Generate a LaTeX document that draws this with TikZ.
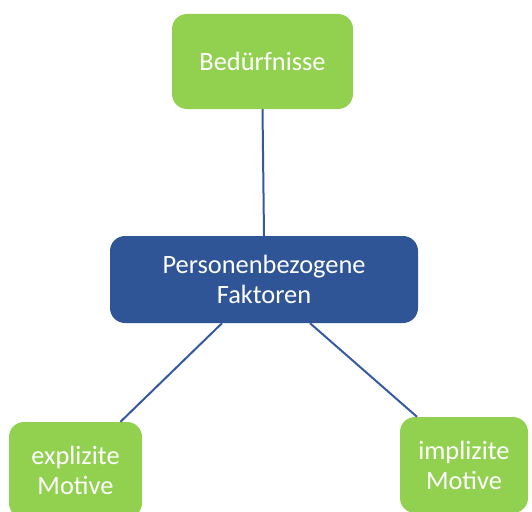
\documentclass[tikz,border=0pt]{standalone}
\usepackage{fontspec}
\setmainfont{Carlito}
\usepackage{tikz}
\usetikzlibrary{arrows.meta}

\definecolor{boxgreen}{HTML}{92D050}
\definecolor{boxblue}{HTML}{2F5597}
\definecolor{linkblue}{HTML}{3559A0}

\tikzset{
  greenbox/.style={fill=boxgreen, rounded corners=15pt, text=white, align=center,
    inner sep=0pt, font=\fontsize{26.4}{30}\selectfont},
  bluebox/.style={fill=boxblue, rounded corners=15pt, text=white, align=center,
    inner sep=0pt, font=\fontsize{26.4}{30}\selectfont},
  link/.style={draw=linkblue, line width=2pt}
}

\begin{document}
\begin{tikzpicture}[x=1pt,y=-1pt]
%\draw[help lines, color=gray!30, dashed] (0,0) grid[step=50] (532,511);
\useasboundingbox (0,0) rectangle (532,511);
\clip (0,0) rectangle (532,511);

\node[greenbox, minimum width=181pt, minimum height=95pt] (bed) at (262.5,61.5) {Bedürfnisse};

\node[bluebox, minimum width=308pt, minimum height=87pt] (pers) at (264,279.5) {Personenbezogene\\Faktoren};

\node[greenbox, minimum width=133pt, minimum height=96pt] (expl) at (75.5,470) {explizite\\Motive};

\node[greenbox, minimum width=128pt, minimum height=96pt] (impl) at (464,465) {implizite\\Motive};

\draw[link] (bed.south) -- (pers.north);
\draw[link] ([xshift=-42pt]pers.south) -- ([xshift=45pt]expl.north);
\draw[link] ([xshift=46pt]pers.south) -- ([xshift=-47pt]impl.north);

\end{tikzpicture}
\end{document}
